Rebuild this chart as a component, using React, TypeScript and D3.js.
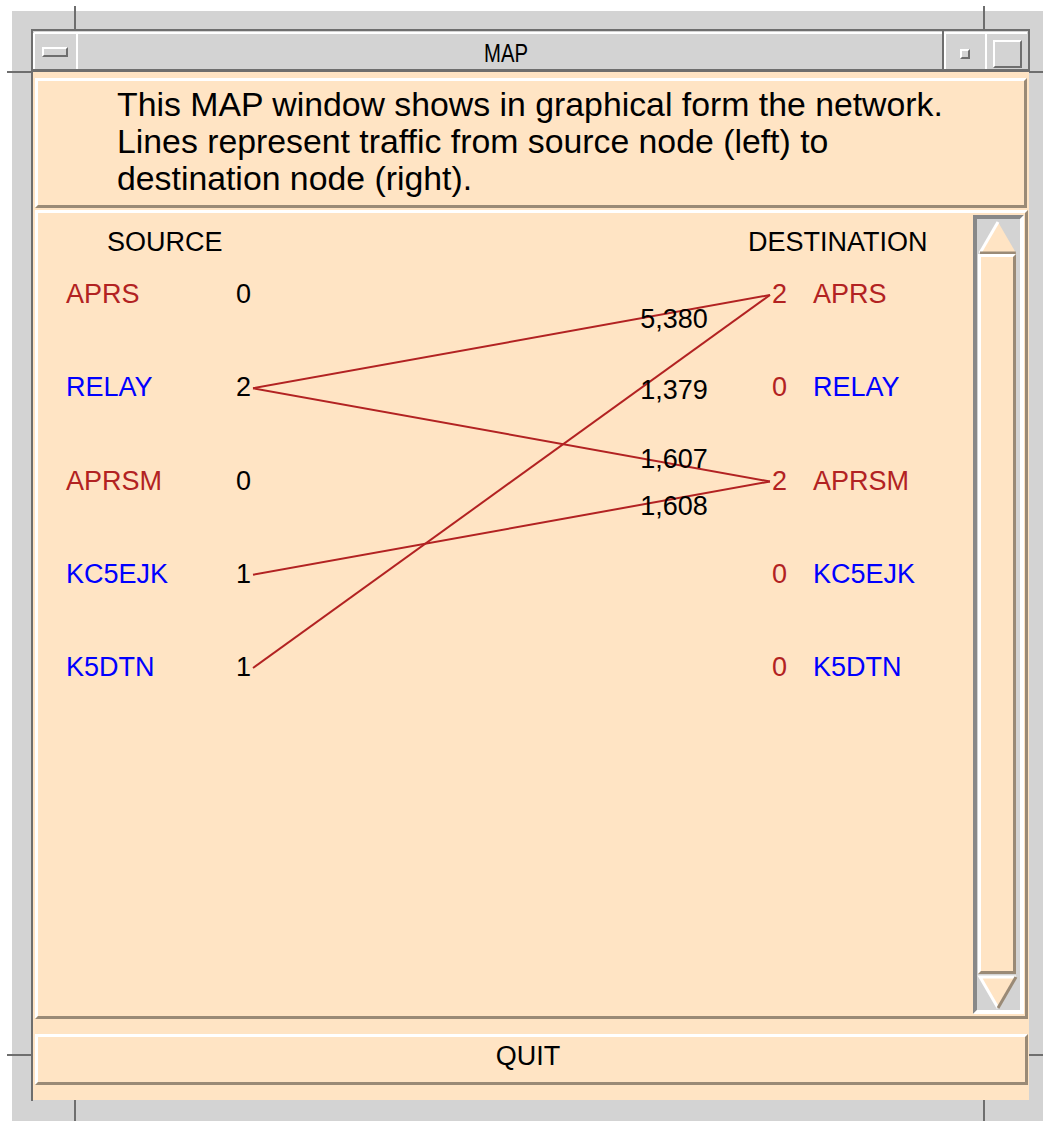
import React from "react";
import * as d3 from "d3";

const nodes = ["APRS", "RELAY", "APRSM", "KC5EJK", "K5DTN"];
const nodeColors = ["#b22222", "#0000ff", "#b22222", "#0000ff", "#0000ff"];
const sourceCounts = [0, 2, 0, 1, 1];
const destCounts = [2, 0, 2, 0, 0];
const linkSources = ["RELAY", "RELAY", "KC5EJK", "K5DTN"];
const linkTargets = ["APRS", "APRSM", "APRSM", "APRS"];
const linkTraffic = [5380, 1607, 1608, 1379];
const descriptionLines = [
  "This MAP window shows in graphical form the network.",
  "Lines represent traffic from source node (left) to",
  "destination node (right).",
];

const PEACH = "#ffe4c4";
const SHADOW = "#9a8a76";
const GRAY = "#d3d3d3";
const DARK = "#6e6e6e";
const RED = "#b22222";
const FONT = "'Liberation Sans', Arial, Helvetica, sans-serif";

function Raised({ x, y, w, h, bw = 3, light = "#ffffff", dark = SHADOW, fill = PEACH, sunken = false }) {
  const tl = sunken ? dark : light;
  const br = sunken ? light : dark;
  return (
    <g>
      <rect x={x} y={y} width={w} height={h} fill={fill} />
      <polygon points={`${x},${y} ${x + w},${y} ${x + w - bw},${y + bw} ${x + bw},${y + bw} ${x + bw},${y + h - bw} ${x},${y + h}`} fill={tl} />
      <polygon points={`${x + w},${y} ${x + w},${y + h} ${x},${y + h} ${x + bw},${y + h - bw} ${x + w - bw},${y + h - bw} ${x + w - bw},${y + bw}`} fill={br} />
    </g>
  );
}

export default function App() {
  const y = d3.scalePoint<string>().domain(nodes).range([295, 668]);
  const x = d3.scaleLinear().domain([0, 1]).range([253, 770]);
  const labelT = 0.749;
  const fmt = d3.format(",");

  return (
    <svg width={1043} height={1121} style={{ position: "absolute", left: 0, top: 0 }} fontFamily={FONT}>
      <rect x={0} y={0} width={1043} height={1121} fill="#ffffff" />
      <rect x={12} y={11} width={1031} height={1110} fill={GRAY} />
      {/* corner marks */}
      <g stroke={DARK} strokeWidth={2}>
        <line x1={75} y1={6} x2={75} y2={72} />
        <line x1={984} y1={6} x2={984} y2={72} />
        <line x1={7} y1={72} x2={33} y2={72} />
        <line x1={1029} y1={72} x2={1043} y2={72} />
        <line x1={7} y1={1055} x2={33} y2={1055} />
        <line x1={1029} y1={1055} x2={1043} y2={1055} />
        <line x1={75} y1={1100} x2={75} y2={1121} />
        <line x1={984} y1={1100} x2={984} y2={1121} />
      </g>
      {/* title bar */}
      <rect x={32} y={30} width={997} height={42} fill={GRAY} stroke={DARK} strokeWidth={2} />
      <line x1={34} y1={33} x2={1027} y2={33} stroke="#ffffff" strokeWidth={2} />
      <line x1={34} y1={33} x2={34} y2={69} stroke="#ffffff" strokeWidth={2} />
      <line x1={33} y1={70} x2={1028} y2={70} stroke={DARK} strokeWidth={2} />
      <line x1={77} y1={33} x2={77} y2={69} stroke="#ffffff" strokeWidth={2} />
      <line x1={943} y1={31} x2={943} y2={71} stroke={DARK} strokeWidth={2} />
      <line x1={945} y1={33} x2={945} y2={69} stroke="#ffffff" strokeWidth={2} />
      <line x1={986} y1={33} x2={986} y2={69} stroke="#ffffff" strokeWidth={2} />
      <Raised x={42} y={47} w={26} h={10} bw={2} light="#ffffff" dark={DARK} fill={GRAY} />
      <Raised x={960} y={49} w={10} h={10} bw={2} light="#ffffff" dark={DARK} fill={GRAY} />
      <Raised x={993} y={40} w={29} h={28} bw={2} light="#ffffff" dark={DARK} fill={GRAY} />
      <text x={506} y={62} fontSize={25} textAnchor="middle" textLength={44} lengthAdjust="spacingAndGlyphs" fill="#000">MAP</text>

      {/* window body */}
      <rect x={33} y={72} width={996} height={1028} fill={PEACH} />
      <line x1={32} y1={72} x2={32} y2={1101} stroke={DARK} strokeWidth={2} />

      {/* description panel */}
      <Raised x={35} y={78} w={992} h={130} bw={3} />
      {descriptionLines.map((t, i) => (
        <text key={i} x={117} y={116 + i * 37} fontSize={33.8} fill="#000">{t}</text>
      ))}

      {/* canvas frame */}
      <Raised x={35} y={210} w={993} h={809} bw={3} />

      {/* scrollbar */}
      <Raised x={973} y={215} w={51} h={799} bw={4} sunken={true} fill={GRAY} light="#ffffff" dark="#888888" />
      <polygon points="998,222 1016,253 980,253" fill={PEACH} />
      <polyline points="980,253 998,222" fill="none" stroke="#ffffff" strokeWidth={3} />
      <polyline points="998,222 1016,253 980,253" fill="none" stroke={SHADOW} strokeWidth={3} strokeLinejoin="bevel" strokeDasharray="0 36 200" />
      <Raised x={978} y={254} w={38} h={720} bw={3} />
      <polygon points="980,977 1016,977 998,1008" fill={PEACH} />
      <polyline points="1016,977 980,977 998,1008" fill="none" stroke="#ffffff" strokeWidth={3} />
      <polyline points="1016,977 998,1008" fill="none" stroke={SHADOW} strokeWidth={3} />

      {/* headers */}
      <text x={107} y={251} fontSize={27} fill="#000">SOURCE</text>
      <text x={748} y={251} fontSize={27} fill="#000">DESTINATION</text>

      {/* links */}
      {linkSources.map((s, i) => {
        const y0 = y(s)!;
        const y1 = y(linkTargets[i])!;
        return (
          <line key={"l" + i} x1={x(0)} y1={y0} x2={x(1)} y2={y1} stroke={RED} strokeWidth={2} />
        );
      })}
      {linkSources.map((s, i) => {
        const y0 = y(s)!;
        const y1 = y(linkTargets[i])!;
        const ly = y0 + (y1 - y0) * labelT;
        return (
          <text key={"t" + i} x={x(labelT)} y={ly + 10} fontSize={27} fill="#000">{fmt(linkTraffic[i])}</text>
        );
      })}

      {/* nodes */}
      {nodes.map((n, i) => (
        <g key={n}>
          <text x={66} y={y(n)! + 8} fontSize={27} fill={nodeColors[i]}>{n}</text>
          <text x={236} y={y(n)! + 8} fontSize={27} fill="#000">{sourceCounts[i]}</text>
          <text x={772} y={y(n)! + 8} fontSize={27} fill={RED}>{destCounts[i]}</text>
          <text x={813} y={y(n)! + 8} fontSize={27} fill={nodeColors[i]}>{n}</text>
        </g>
      ))}

      {/* QUIT button */}
      <Raised x={35} y={1034} w={993} h={51} bw={3} />
      <text x={528} y={1065} fontSize={27} textAnchor="middle" fill="#000">QUIT</text>
    </svg>
  );
}
